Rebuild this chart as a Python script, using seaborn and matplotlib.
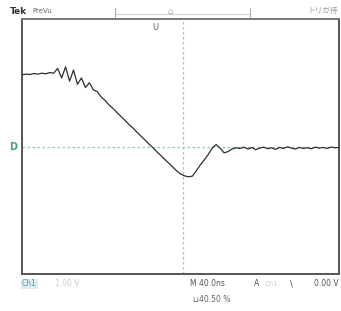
import numpy as np
import pandas as pd
import matplotlib
matplotlib.use("Agg")
import matplotlib.pyplot as plt
import seaborn as sns

# Scope trace in divisions (10 x 8 graticule)
# one sample every 0.125 div, from -5 to +5
sample_step = 0.125
trace_values = [
    2.25, 2.27, 2.26, 2.29, 2.27, 2.30, 2.28, 2.32, 2.30,
    2.45, 2.15, 2.50, 2.05, 2.40, 1.95,
    2.15, 1.85, 2.00, 1.78, 1.72,
    1.55, 1.44, 1.30, 1.19, 1.06, 0.94, 0.82, 0.69, 0.58, 0.45,
    0.33, 0.21, 0.08, -0.03, -0.16, -0.28, -0.40, -0.52, -0.64, -0.76,
    -0.86, -0.92, -0.95, -0.93, -0.76, -0.58, -0.42, -0.25, -0.05, 0.06,
    -0.05, -0.20, -0.16, -0.08, -0.04, -0.06, -0.02,
    -0.08, -0.03, -0.10, -0.05, -0.02, -0.07, -0.04, -0.09, -0.03, -0.06,
    -0.01, -0.05, -0.08, -0.03, -0.06, -0.04, -0.07, -0.02, -0.05, -0.03,
    -0.06, -0.02, -0.04, -0.03,
]
sample_time = -5 + sample_step * np.arange(len(trace_values))

df = pd.DataFrame({"t": sample_time, "v": trace_values})

sns.set_style("white")
plt.rcParams['font.family'] = ['DejaVu Sans', 'Noto Sans CJK JP']

fig = plt.figure(figsize=(3.41, 3.11), dpi=100)
ax = fig.add_axes([22 / 341, 37 / 311, 317 / 341, 255 / 311])

# centre graticule lines
ax.axhline(0, color="#9fc4c4", lw=0.9, ls=(0, (2, 2)), zorder=1)
ax.axvline(0.08, color="#9fc4c4", lw=0.9, ls=(0, (2, 2)), zorder=1)

sns.lineplot(data=df, x="t", y="v", ax=ax, color="#2e2e2e", lw=0.9, zorder=3)

ax.set_xlim(-5, 5)
ax.set_ylim(-4, 4)
ax.set_xticks([])
ax.set_yticks([])
ax.set_xlabel("")
ax.set_ylabel("")
for s in ax.spines.values():
    s.set_color("#555555")
    s.set_linewidth(1.4)
ax.spines["top"].set_color("#777777")

# header
fig.text(10 / 341, 1 - 11 / 311, "Tek", fontsize=6.5, fontweight="bold", color="#333333", va="center")
fig.text(32 / 341, 1 - 11 / 311, "PreVu", fontsize=5, color="#666666", va="center")
fig.add_artist(plt.Line2D([115 / 341, 250 / 341], [1 - 14 / 311] * 2, color="#cfcfcf", lw=0.8))
for xp in (115, 250):
    fig.add_artist(plt.Line2D([xp / 341] * 2, [1 - 8 / 311, 1 - 17 / 311], color="#aaaaaa", lw=0.8))
fig.text(170 / 341, 1 - 12 / 311, "⌂", fontsize=6, color="#aaaaaa", ha="center", va="center")
fig.text(338 / 341, 1 - 11 / 311, "トリガ待", fontsize=5.5, color="#999999", ha="right", va="center",
         family=['Noto Sans CJK JP', 'DejaVu Sans'])
fig.text(155 / 341, 1 - 28 / 311, "U", fontsize=6, color="#666666", ha="center", va="center")

# ground marker
fig.text(13 / 341, 1 - 147 / 311, "D", fontsize=7, color="#4a9a8a", ha="center", va="center", fontweight="bold")

# footer
fig.text(22 / 341, 1 - 284 / 311, "Ch1", fontsize=5.5, color="#5e9eb0", va="center",
         bbox=dict(facecolor="#dcecf0", edgecolor="none", pad=0.5))
fig.text(55 / 341, 1 - 284 / 311, "1.00 V", fontsize=5.5, color="#c5d0d0", va="center")
fig.text(190 / 341, 1 - 284 / 311, "M 40.0ns", fontsize=5.5, color="#555555", va="center")
fig.text(254 / 341, 1 - 284 / 311, "A", fontsize=5.5, color="#555555", va="center")
fig.text(265 / 341, 1 - 284 / 311, "Ch1", fontsize=5, color="#c5d0d0", va="center")
fig.text(290 / 341, 1 - 284 / 311, "\\", fontsize=6, color="#444444", va="center")
fig.text(339 / 341, 1 - 284 / 311, "0.00 V", fontsize=5.5, color="#555555", ha="right", va="center")
fig.text(193 / 341, 1 - 300 / 311, "⊔40.50 %", fontsize=5.5, color="#666666", va="center")

fig.savefig("out.png", dpi=100)
